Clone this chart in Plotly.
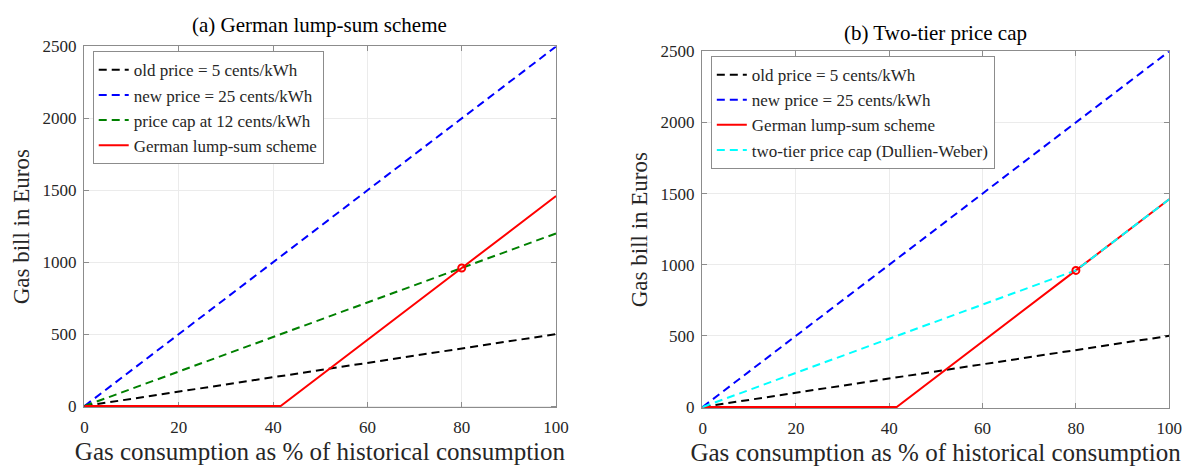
import plotly.graph_objects as go

# ---- data ----
x_lin = [0, 100]
old_price = [0, 500]          # 5 cents/kWh
new_price = [0, 2500]         # 25 cents/kWh
cap_price = [0, 1200]         # 12 cents/kWh
lump_x = [0, 41.6, 80, 100]
lump_y = [0, 0, 960, 1460]
tier_x = [0, 80, 100]
tier_y = [0, 960, 1460]
mark_x = [80]
mark_y = [960]
x_ticks = [0, 20, 40, 60, 80, 100]
y_ticks = [0, 500, 1000, 1500, 2000, 2500]

FONT = "Liberation Serif"
DASH = "8px,5px"
fig = go.Figure()

def add(x, y, name, color, dash, xa, ya, legend):
    fig.add_trace(go.Scatter(x=x, y=y, mode="lines", name=name,
                             line=dict(color=color, width=2, dash=dash),
                             xaxis=xa, yaxis=ya, legend=legend))

def marker(xa, ya):
    fig.add_trace(go.Scatter(x=mark_x, y=mark_y, mode="markers", showlegend=False,
                             marker=dict(symbol="circle-open", color="red", size=7,
                                         line=dict(width=2, color="red")),
                             xaxis=xa, yaxis=ya))

# left panel
add(x_lin, old_price, "old price = 5 cents/kWh", "black", DASH, "x", "y", "legend")
add(x_lin, new_price, "new price = 25 cents/kWh", "blue", DASH, "x", "y", "legend")
add(x_lin, cap_price, "price cap at 12 cents/kWh", "#008000", DASH, "x", "y", "legend")
add(lump_x, lump_y, "German lump-sum scheme", "red", "solid", "x", "y", "legend")
marker("x", "y")

# right panel
add(x_lin, old_price, "old price = 5 cents/kWh", "black", DASH, "x2", "y2", "legend2")
add(x_lin, new_price, "new price = 25 cents/kWh", "blue", DASH, "x2", "y2", "legend2")
add(lump_x, lump_y, "German lump-sum scheme", "red", "solid", "x2", "y2", "legend2")
add(tier_x, tier_y, "two-tier price cap (Dullien-Weber)", "cyan", DASH, "x2", "y2", "legend2")
marker("x2", "y2")

W, H = 1196, 466
TXT = "#262626"

def xaxis(dom, anchor):
    return dict(domain=dom, anchor=anchor, range=[-0.15, 100], tickvals=x_ticks,
                showgrid=True, gridcolor="#ebebeb", zeroline=False, layer="below traces",
                showline=True, linecolor="#8c8c8c", linewidth=1, mirror="ticks",
                ticks="inside", ticklen=5, tickcolor="#8c8c8c",
                ticklabelstandoff=5,
                tickfont=dict(family=FONT, size=17, color=TXT),
                title=dict(text="Gas consumption as % of historical consumption",
                           font=dict(family=FONT, size=25, color=TXT), standoff=6))

def yaxis(dom, anchor):
    return dict(domain=dom, anchor=anchor, range=[-7, 2500], tickvals=y_ticks,
                showgrid=True, gridcolor="#ebebeb", zeroline=False, layer="below traces",
                showline=True, linecolor="#8c8c8c", linewidth=1, mirror="ticks",
                ticks="inside", ticklen=5, tickcolor="#8c8c8c",
                ticklabelstandoff=3,
                tickfont=dict(family=FONT, size=17, color=TXT),
                title=dict(text="Gas bill in Euros",
                           font=dict(family=FONT, size=23, color=TXT), standoff=6))

legstyle = dict(bgcolor="white", bordercolor="#8c8c8c", borderwidth=1,
                font=dict(family=FONT, size=17, color=TXT),
                xanchor="left", yanchor="top", tracegroupgap=0, itemwidth=30)

fig.update_layout(
    width=W, height=H, margin=dict(l=0, r=0, t=0, b=0),
    plot_bgcolor="white", paper_bgcolor="white",
    xaxis=xaxis([81 / W, 560 / W], "y"),
    yaxis=yaxis([1 - 414 / H, 1 - 39 / H], "x"),
    xaxis2=xaxis([708 / W, 1182 / W], "y2"),
    yaxis2=yaxis([1 - 415 / H, 1 - 44 / H], "x2"),
    legend=dict(x=90 / W, y=1 - 44 / H, **legstyle),
    legend2=dict(x=717 / W, y=1 - 49 / H, **legstyle),
    annotations=[
        dict(text="(a) German lump-sum scheme", x=(81 + 560) / 2 / W, y=1 - 17 / H,
             xref="paper", yref="paper", xanchor="center", yanchor="middle",
             showarrow=False, font=dict(family=FONT, size=21, color="black")),
        dict(text="(b) Two-tier price cap", x=(708 + 1182) / 2 / W, y=1 - 25 / H,
             xref="paper", yref="paper", xanchor="center", yanchor="middle",
             showarrow=False, font=dict(family=FONT, size=21, color="black")),
    ],
)

fig.write_html("out.html")
